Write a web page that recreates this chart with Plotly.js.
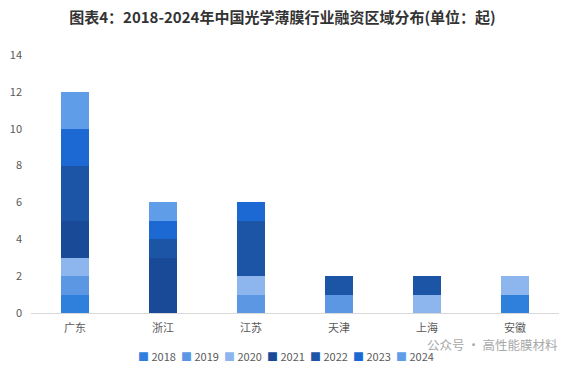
<!DOCTYPE html>
<html>
<head>
<meta charset="utf-8">
<script src="https://cdn.plot.ly/plotly-3.0.1.min.js"></script>
<style>html,body{margin:0;padding:0;background:#fff;}#chart{width:565px;height:367px;}</style>
</head>
<body>
<div id="chart"></div>
<script>
const regions = ["广东", "浙江", "江苏", "天津", "上海", "安徽"];
const years = ["2018", "2019", "2020", "2021", "2022", "2023", "2024"];
const v2018 = [1, 0, 0, 0, 0, 1];
const v2019 = [1, 0, 1, 1, 0, 0];
const v2020 = [1, 0, 1, 0, 1, 1];
const v2021 = [2, 3, 0, 0, 0, 0];
const v2022 = [3, 1, 3, 1, 1, 0];
const v2023 = [2, 1, 1, 0, 0, 0];
const v2024 = [2, 1, 0, 0, 0, 0];
const seriesValues = [v2018, v2019, v2020, v2021, v2022, v2023, v2024];
const yTicks = [0, 2, 4, 6, 8, 10, 12, 14];
const colors = ["#2f7fdc", "#5b97e3", "#8db6ef", "#184a98", "#1c54a6", "#1c69d3", "#5f9de8"];

const traces = years.map((y, i) => ({
  type: "bar",
  name: y,
  x: regions,
  y: seriesValues[i],
  marker: {color: colors[i]},
  showlegend: false
}));

// compact legend built as text annotations
const plotL = 31, plotW = 528;
const legendStart = 137, legendStep = 43;
const legendAnns = years.map((y, i) => ({
  text: '<span style="color:' + colors[i] + '">■</span> ' + y,
  xref: "paper", yref: "paper",
  x: (legendStart + i * legendStep - plotL) / plotW,
  y: -0.168, xanchor: "left", yanchor: "middle", showarrow: false,
  font: {size: 11, color: "#595959"}, borderpad: 0
}));

const layout = {
  width: 565, height: 367,
  margin: {l: 31, r: 6, t: 55, b: 54},
  barmode: "stack",
  bargap: 0.68,
  paper_bgcolor: "#fff",
  plot_bgcolor: "#fff",
  font: {family: "Noto Sans CJK SC, sans-serif", color: "#595959", size: 11},
  showlegend: false,
  title: {
    text: "<b>图表4：2018-2024年中国光学薄膜行业融资区域分布(单位：起)</b>",
    x: 0.5, xanchor: "center", y: 0.952, yanchor: "middle",
    font: {size: 15, color: "#333333", family: "Noto Sans CJK SC, sans-serif"}
  },
  xaxis: {
    showgrid: false, zeroline: false,
    showline: true, linecolor: "#d9d9d9", linewidth: 1,
    ticks: "", tickfont: {size: 11, color: "#595959"},
    ticklabelstandoff: 5
  },
  yaxis: {
    range: [0, 14], tickvals: yTicks, showgrid: false, zeroline: false,
    showline: false, ticks: "", tickfont: {size: 11, color: "#595959"},
    ticklabelstandoff: 8
  },
  annotations: legendAnns.concat([{
    text: "公众号 · 高性能膜材料", xref: "paper", yref: "paper",
    x: 1.0, y: -0.121, xanchor: "right", yanchor: "middle", showarrow: false,
    font: {size: 12.5, color: "#a8a8a8"}, borderpad: 0
  }])
};

Plotly.newPlot("chart", traces, layout, {displayModeBar: false, staticPlot: true});
</script>
</body>
</html>
